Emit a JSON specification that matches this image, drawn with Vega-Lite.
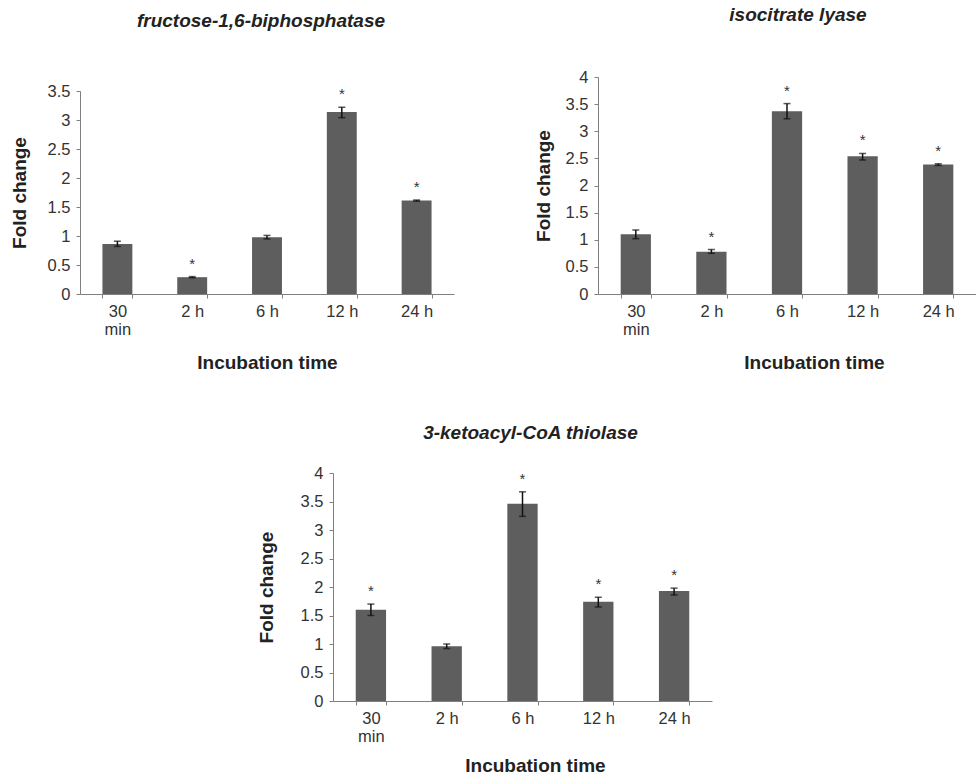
{
  "$schema": "https://vega.github.io/schema/vega-lite/v6.json",
  "padding": {"left": 10, "top": 6, "right": 0, "bottom": 5},
  "background": "white",
  "datasets": {
    "fbp": [
      {"time": "30 min", "value": 0.86, "lo": 0.82, "hi": 0.91, "star": ""},
      {"time": "2 h", "value": 0.29, "lo": 0.28, "hi": 0.30, "star": "*"},
      {"time": "6 h", "value": 0.98, "lo": 0.95, "hi": 1.01, "star": ""},
      {"time": "12 h", "value": 3.14, "lo": 3.04, "hi": 3.22, "star": "*"},
      {"time": "24 h", "value": 1.61, "lo": 1.60, "hi": 1.62, "star": "*"}
    ],
    "icl": [
      {"time": "30 min", "value": 1.10, "lo": 1.02, "hi": 1.18, "star": ""},
      {"time": "2 h", "value": 0.78, "lo": 0.75, "hi": 0.82, "star": "*"},
      {"time": "6 h", "value": 3.37, "lo": 3.23, "hi": 3.51, "star": "*"},
      {"time": "12 h", "value": 2.54, "lo": 2.47, "hi": 2.59, "star": "*"},
      {"time": "24 h", "value": 2.385, "lo": 2.37, "hi": 2.40, "star": "*"}
    ],
    "kat": [
      {"time": "30 min", "value": 1.60, "lo": 1.50, "hi": 1.70, "star": "*"},
      {"time": "2 h", "value": 0.96, "lo": 0.92, "hi": 1.00, "star": ""},
      {"time": "6 h", "value": 3.46, "lo": 3.24, "hi": 3.67, "star": "*"},
      {"time": "12 h", "value": 1.74, "lo": 1.65, "hi": 1.82, "star": "*"},
      {"time": "24 h", "value": 1.93, "lo": 1.86, "hi": 1.98, "star": "*"}
    ]
  },
  "vconcat": [
    {
      "align": "none",
      "spacing": 80,
      "hconcat": [
        {
          "data": {"name": "fbp"},
          "width": 374,
          "height": 217,
          "title": {"text": "fructose-1,6-biphosphatase", "offset": 46, "dx": -6},
          "encoding": {
            "x": {
              "field": "time", "type": "nominal",
              "sort": ["30 min", "2 h", "6 h", "12 h", "24 h"],
              "scale": {"paddingInner": 0.6, "paddingOuter": 0.3},
              "axis": {
                "title": "Incubation time",
                "labelAngle": 0,
                "tickBand": "extent",
                "labelExpr": "datum.value == '30 min' ? ['30', 'min'] : datum.value",
                "labelLineHeight": 18,
                "labelPadding": 5,
                "titlePadding": 16
              }
            }
          },
          "layer": [
            {"mark": {"type": "bar", "color": "#5e5e5e"}, "encoding": {"y": {"field": "value", "type": "quantitative", "scale": {"domain": [0, 3.5], "range": [217, 14]}, "axis": {"title": "Fold change", "values": [0, 0.5, 1, 1.5, 2, 2.5, 3, 3.5], "format": "~g", "titlePadding": 18, "labelOverlap": false}}}},
            {"mark": {"type": "rule", "color": "#111", "strokeWidth": 1.5}, "encoding": {"y": {"field": "lo", "type": "quantitative", "axis": {"title": "Fold change", "values": [0, 0.5, 1, 1.5, 2, 2.5, 3, 3.5], "format": "~g", "titlePadding": 18, "labelOverlap": false}}, "y2": {"field": "hi"}}},
            {"mark": {"type": "tick", "color": "#111", "size": 7, "thickness": 1.5}, "encoding": {"y": {"field": "lo", "type": "quantitative", "axis": {"title": "Fold change", "values": [0, 0.5, 1, 1.5, 2, 2.5, 3, 3.5], "format": "~g", "titlePadding": 18, "labelOverlap": false}}}},
            {"mark": {"type": "tick", "color": "#111", "size": 7, "thickness": 1.5}, "encoding": {"y": {"field": "hi", "type": "quantitative", "axis": {"title": "Fold change", "values": [0, 0.5, 1, 1.5, 2, 2.5, 3, 3.5], "format": "~g", "titlePadding": 18, "labelOverlap": false}}}},
            {"mark": {"type": "text", "baseline": "alphabetic", "dy": -8, "fontSize": 15, "color": "#333", "font": "Liberation Sans"}, "encoding": {"y": {"field": "hi", "type": "quantitative", "axis": {"title": "Fold change", "values": [0, 0.5, 1, 1.5, 2, 2.5, 3, 3.5], "format": "~g", "titlePadding": 18, "labelOverlap": false}}, "text": {"field": "star"}}}
          ]
        },
        {
          "data": {"name": "icl"},
          "width": 378,
          "height": 217,
          "title": {"text": "isocitrate lyase", "offset": 44, "dx": 11},
          "encoding": {
            "x": {
              "field": "time", "type": "nominal",
              "sort": ["30 min", "2 h", "6 h", "12 h", "24 h"],
              "scale": {"paddingInner": 0.6, "paddingOuter": 0.3},
              "axis": {
                "title": "Incubation time",
                "labelAngle": 0,
                "tickBand": "extent",
                "labelExpr": "datum.value == '30 min' ? ['30', 'min'] : datum.value",
                "labelLineHeight": 18,
                "labelPadding": 5,
                "titlePadding": 16,
                "titleX": 216
              }
            }
          },
          "layer": [
            {"mark": {"type": "bar", "color": "#5e5e5e"}, "encoding": {"y": {"field": "value", "type": "quantitative", "scale": {"domain": [0, 4]}, "axis": {"title": "Fold change", "values": [0, 0.5, 1, 1.5, 2, 2.5, 3, 3.5, 4], "format": "~g", "titlePadding": 12, "labelOverlap": false}}}},
            {"mark": {"type": "rule", "color": "#111", "strokeWidth": 1.5}, "encoding": {"y": {"field": "lo", "type": "quantitative", "axis": {"title": "Fold change", "values": [0, 0.5, 1, 1.5, 2, 2.5, 3, 3.5, 4], "format": "~g", "titlePadding": 12, "labelOverlap": false}}, "y2": {"field": "hi"}}},
            {"mark": {"type": "tick", "color": "#111", "size": 7, "thickness": 1.5}, "encoding": {"y": {"field": "lo", "type": "quantitative", "axis": {"title": "Fold change", "values": [0, 0.5, 1, 1.5, 2, 2.5, 3, 3.5, 4], "format": "~g", "titlePadding": 12, "labelOverlap": false}}}},
            {"mark": {"type": "tick", "color": "#111", "size": 7, "thickness": 1.5}, "encoding": {"y": {"field": "hi", "type": "quantitative", "axis": {"title": "Fold change", "values": [0, 0.5, 1, 1.5, 2, 2.5, 3, 3.5, 4], "format": "~g", "titlePadding": 12, "labelOverlap": false}}}},
            {"mark": {"type": "text", "baseline": "alphabetic", "dy": -8, "fontSize": 15, "color": "#333", "font": "Liberation Sans"}, "encoding": {"y": {"field": "hi", "type": "quantitative", "axis": {"title": "Fold change", "values": [0, 0.5, 1, 1.5, 2, 2.5, 3, 3.5, 4], "format": "~g", "titlePadding": 12, "labelOverlap": false}}, "text": {"field": "star"}}}
          ]
        }
      ]
    },
    {
      "spacing": 10,
      "hconcat": [
        {
          "data": {"values": []},
          "width": 167,
          "height": 10,
          "mark": {"type": "point", "opacity": 0},
          "encoding": {}
        },
        {
          "data": {"name": "kat"},
          "width": 379,
          "height": 228,
          "title": {"text": "3-ketoacyl-CoA thiolase", "offset": 22, "dx": 8},
          "encoding": {
            "x": {
              "field": "time", "type": "nominal",
              "sort": ["30 min", "2 h", "6 h", "12 h", "24 h"],
              "scale": {"paddingInner": 0.6, "paddingOuter": 0.3},
              "axis": {
                "title": "Incubation time",
                "labelAngle": 0,
                "tickBand": "extent",
                "labelExpr": "datum.value == '30 min' ? ['30', 'min'] : datum.value",
                "labelLineHeight": 18,
                "labelPadding": 5,
                "titlePadding": 12,
                "titleX": 202
              }
            }
          },
          "layer": [
            {"mark": {"type": "bar", "color": "#5e5e5e"}, "encoding": {"y": {"field": "value", "type": "quantitative", "scale": {"domain": [0, 4]}, "axis": {"title": "Fold change", "values": [0, 0.5, 1, 1.5, 2, 2.5, 3, 3.5, 4], "format": "~g", "titlePadding": 24, "labelOverlap": false}}}},
            {"mark": {"type": "rule", "color": "#111", "strokeWidth": 1.5}, "encoding": {"y": {"field": "lo", "type": "quantitative", "axis": {"title": "Fold change", "values": [0, 0.5, 1, 1.5, 2, 2.5, 3, 3.5, 4], "format": "~g", "titlePadding": 24, "labelOverlap": false}}, "y2": {"field": "hi"}}},
            {"mark": {"type": "tick", "color": "#111", "size": 7, "thickness": 1.5}, "encoding": {"y": {"field": "lo", "type": "quantitative", "axis": {"title": "Fold change", "values": [0, 0.5, 1, 1.5, 2, 2.5, 3, 3.5, 4], "format": "~g", "titlePadding": 24, "labelOverlap": false}}}},
            {"mark": {"type": "tick", "color": "#111", "size": 7, "thickness": 1.5}, "encoding": {"y": {"field": "hi", "type": "quantitative", "axis": {"title": "Fold change", "values": [0, 0.5, 1, 1.5, 2, 2.5, 3, 3.5, 4], "format": "~g", "titlePadding": 24, "labelOverlap": false}}}},
            {"mark": {"type": "text", "baseline": "alphabetic", "dy": -8, "fontSize": 15, "color": "#333", "font": "Liberation Sans"}, "encoding": {"y": {"field": "hi", "type": "quantitative", "axis": {"title": "Fold change", "values": [0, 0.5, 1, 1.5, 2, 2.5, 3, 3.5, 4], "format": "~g", "titlePadding": 24, "labelOverlap": false}}, "text": {"field": "star"}}}
          ]
        }
      ]
    }
  ],
  "spacing": 51,
  "config": {
    "view": {"stroke": null},
    "axis": {
      "grid": false,
      "labelFont": "Liberation Sans",
      "labelFontSize": 16.5,
      "labelColor": "#333",
      "titleFont": "Liberation Sans",
      "titleFontSize": 19,
      "titleFontWeight": "bold",
      "titleColor": "#222",
      "domainColor": "#808080",
      "tickColor": "#808080",
      "tickSize": 4
    },
    "axisY": {"labelPadding": 6},
    "title": {
      "font": "Liberation Sans",
      "fontSize": 19,
      "fontStyle": "italic",
      "fontWeight": "bold",
      "color": "#222"
    }
  }
}
